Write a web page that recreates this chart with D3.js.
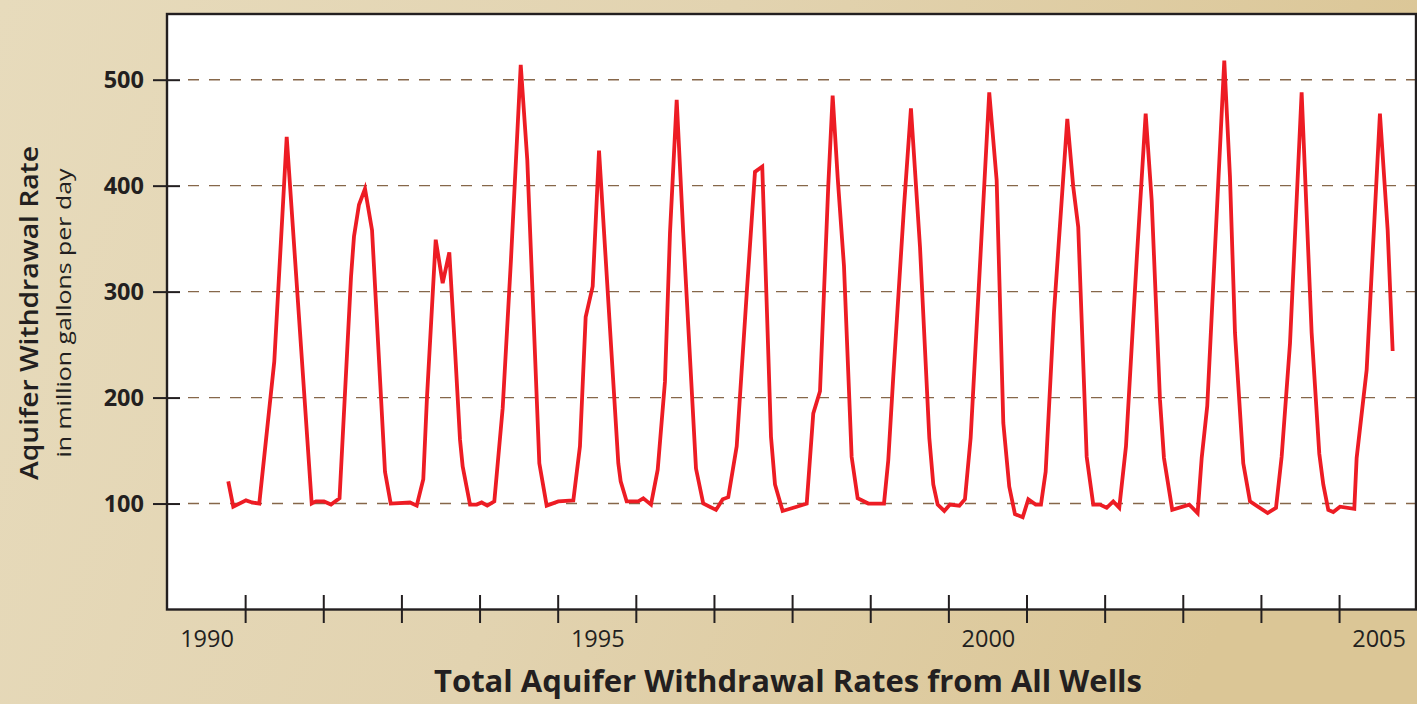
<!DOCTYPE html>
<html>
<head>
<meta charset="utf-8">
<script src="https://cdn.jsdelivr.net/npm/d3@7"></script>
<style>
    html, body { margin: 0; padding: 0; }
    body { width: 1417px; height: 704px; overflow: hidden; }
    svg { display: block; }
    text { fill: #231f20; font-family: "Open Sans", "Noto Sans", sans-serif; }
</style>
</head>
<body>
<div id="graph"></div>
<script>
// withdrawal rate (million gallons per day), dates as decimal years
var dates = [
    1990.784, 1990.848, 1991.011, 1991.088, 1991.181, 1991.373, 1991.532, 1991.852,
    1991.907, 1992.009, 1992.099, 1992.208, 1992.355, 1992.393, 1992.457, 1992.534,
    1992.624, 1992.790, 1992.863, 1993.110, 1993.196, 1993.280, 1993.327, 1993.439,
    1993.528, 1993.613, 1993.686, 1993.750, 1993.784, 1993.878, 1993.963, 1994.027,
    1994.099, 1994.189, 1994.296, 1994.402, 1994.527, 1994.611, 1994.765, 1994.859,
    1995.008, 1995.200, 1995.285, 1995.358, 1995.448, 1995.529, 1995.776, 1995.806,
    1995.883, 1996.032, 1996.096, 1996.194, 1996.280, 1996.373, 1996.437, 1996.523,
    1996.607, 1996.770, 1996.863, 1997.026, 1997.112, 1997.183, 1997.291, 1997.419,
    1997.525, 1997.618, 1997.730, 1997.781, 1997.879, 1998.059, 1998.187, 1998.271,
    1998.357, 1998.463, 1998.519, 1998.583, 1998.664, 1998.762, 1998.839, 1998.975,
    1999.176, 1999.231, 1999.295, 1999.432, 1999.521, 1999.637, 1999.756, 1999.807,
    1999.863, 1999.948, 2000.020, 2000.140, 2000.212, 2000.285, 2000.379, 2000.523,
    2000.618, 2000.703, 2000.779, 2000.852, 2000.951, 2001.023, 2001.117, 2001.185,
    2001.245, 2001.351, 2001.522, 2001.598, 2001.662, 2001.770, 2001.854, 2001.940,
    2002.026, 2002.110, 2002.187, 2002.273, 2002.414, 2002.525, 2002.602, 2002.708,
    2002.759, 2002.865, 2003.083, 2003.190, 2003.242, 2003.313, 2003.531, 2003.604,
    2003.668, 2003.774, 2003.860, 2004.086, 2004.193, 2004.265, 2004.372, 2004.521,
    2004.649, 2004.747, 2004.798, 2004.862, 2004.926, 2005.012, 2005.195, 2005.225,
    2005.353, 2005.523, 2005.622, 2005.686
];
var rates = [
    121, 97, 103, 101, 100, 234, 446, 100,
    102, 102, 99, 105, 314, 352, 382, 397,
    358, 130, 100, 101, 98, 123, 200, 349,
    308, 337, 245, 160, 135, 99, 99, 101,
    98, 102, 190, 330, 514, 424, 138, 98,
    102, 103, 154, 276, 305, 433, 138, 121,
    102, 102, 105, 99, 132, 215, 355, 481,
    355, 133, 100, 94, 104, 106, 154, 298,
    413, 418, 163, 118, 93, 97, 100, 185,
    206, 400, 485, 408, 324, 144, 105, 100,
    100, 141, 220, 380, 473, 342, 162, 118,
    99, 93, 99, 98, 104, 162, 290, 488,
    405, 176, 116, 90, 87, 104, 99, 99,
    130, 280, 463, 399, 361, 144, 99, 99,
    96, 102, 96, 154, 335, 468, 386, 198,
    143, 94, 99, 91, 143, 192, 518, 408,
    261, 138, 102, 91, 96, 144, 251, 488,
    261, 147, 118, 94, 92, 97, 95, 143,
    226, 468, 358, 244
];

var yTicks = [100, 200, 300, 400, 500];
var xTicks = d3.range(1991, 2006);
var yearLabels = [1990, 1995, 2000, 2005];

var width = 1417;
var height = 704;
var plotLeft = 167, plotRight = 1416, plotTop = 14, plotBottom = 609.5;

var svg = d3.select("#graph")
    .append("svg")
    .attr("width", width)
    .attr("height", height);

var defs = svg.append("defs");
var bg = defs.append("linearGradient")
    .attr("id", "bg")
    .attr("x1", "0").attr("y1", "0")
    .attr("x2", "1").attr("y2", "0.2");
bg.append("stop").attr("offset", "0").attr("stop-color", "#e7dbbc");
bg.append("stop").attr("offset", "0.5").attr("stop-color", "#e2d3b0");
bg.append("stop").attr("offset", "1").attr("stop-color", "#dbc696");

svg.append("rect")
    .attr("width", width)
    .attr("height", height)
    .attr("fill", "url(#bg)");

var x = d3.scaleLinear()
    .domain([1990, 2006])
    .range([plotLeft, 1417.2]);

var y = d3.scaleLinear()
    .domain([0, 562])
    .range([plotBottom, plotTop]);

// plot area
svg.append("rect")
    .attr("x", plotLeft)
    .attr("y", plotTop)
    .attr("width", plotRight - plotLeft)
    .attr("height", plotBottom - plotTop)
    .attr("fill", "#ffffff");

// dashed grid
svg.append("g")
    .attr("class", "grid")
    .selectAll("line")
    .data(yTicks)
    .enter()
    .append("line")
    .attr("x1", 188)
    .attr("x2", plotRight)
    .attr("y1", function(d) { return y(d); })
    .attr("y2", function(d) { return y(d); })
    .attr("stroke", "#86674a")
    .attr("stroke-width", 1.4)
    .attr("stroke-dasharray", "11,10");

// y axis: ticks cross the frame line
var yAxis = d3.axisLeft(y)
    .tickValues(yTicks)
    .tickSize(27)
    .tickPadding(9);

var gY = svg.append("g")
    .attr("class", "axis axis--y")
    .attr("transform", "translate(180,0)")
    .call(yAxis);
gY.select(".domain").remove();
gY.selectAll(".tick line")
    .attr("stroke", "#231f20")
    .attr("stroke-width", 2);
gY.selectAll(".tick text")
    .attr("fill", "#231f20")
    .style("font-family", "'Open Sans', sans-serif")
    .style("font-size", "23.5px")
    .style("font-weight", "700");

// x axis: year boundaries
var xAxis = d3.axisBottom(x)
    .tickValues(xTicks)
    .tickSize(28)
    .tickFormat("");

var gX = svg.append("g")
    .attr("class", "axis axis--x")
    .attr("transform", "translate(0,595)")
    .call(xAxis);
gX.select(".domain").remove();
gX.selectAll(".tick line")
    .attr("stroke", "#231f20")
    .attr("stroke-width", 2);

svg.append("g")
    .attr("class", "year-labels")
    .selectAll("text")
    .data(yearLabels)
    .enter()
    .append("text")
    .attr("x", function(d) { return x(d + 0.5) + 1; })
    .attr("y", 646.5)
    .attr("text-anchor", "middle")
    .style("font-size", "23.5px")
    .text(function(d) { return d; });

// frame
svg.append("rect")
    .attr("x", plotLeft)
    .attr("y", plotTop)
    .attr("width", plotRight - plotLeft)
    .attr("height", plotBottom - plotTop)
    .attr("fill", "none")
    .attr("stroke", "#231f20")
    .attr("stroke-width", 2.4);

var line = d3.line()
    .x(function(d) { return x(d[0]); })
    .y(function(d) { return y(d[1]); });

svg.append("path")
    .datum(d3.zip(dates, rates))
    .attr("class", "line")
    .attr("fill", "none")
    .attr("stroke", "#ed1c24")
    .attr("stroke-width", 3.8)
    .attr("stroke-linejoin", "miter")
    .attr("stroke-miterlimit", 4)
    .attr("d", line);

// titles
svg.append("text")
    .attr("transform", "translate(38,313) rotate(-90)")
    .attr("text-anchor", "middle")
    .attr("textLength", 334)
    .attr("lengthAdjust", "spacingAndGlyphs")
    .style("font-size", "25px")
    .style("font-weight", "600")
    .text("Aquifer Withdrawal Rate");

svg.append("text")
    .attr("transform", "translate(70.5,313) rotate(-90)")
    .attr("text-anchor", "middle")
    .attr("textLength", 289)
    .attr("lengthAdjust", "spacingAndGlyphs")
    .style("font-size", "20px")
    .text("in million gallons per day");

svg.append("text")
    .attr("x", 788)
    .attr("y", 691.5)
    .attr("text-anchor", "middle")
    .attr("textLength", 708)
    .attr("lengthAdjust", "spacingAndGlyphs")
    .style("font-size", "30px")
    .style("font-weight", "700")
    .text("Total Aquifer Withdrawal Rates from All Wells");
</script>
</body>
</html>
